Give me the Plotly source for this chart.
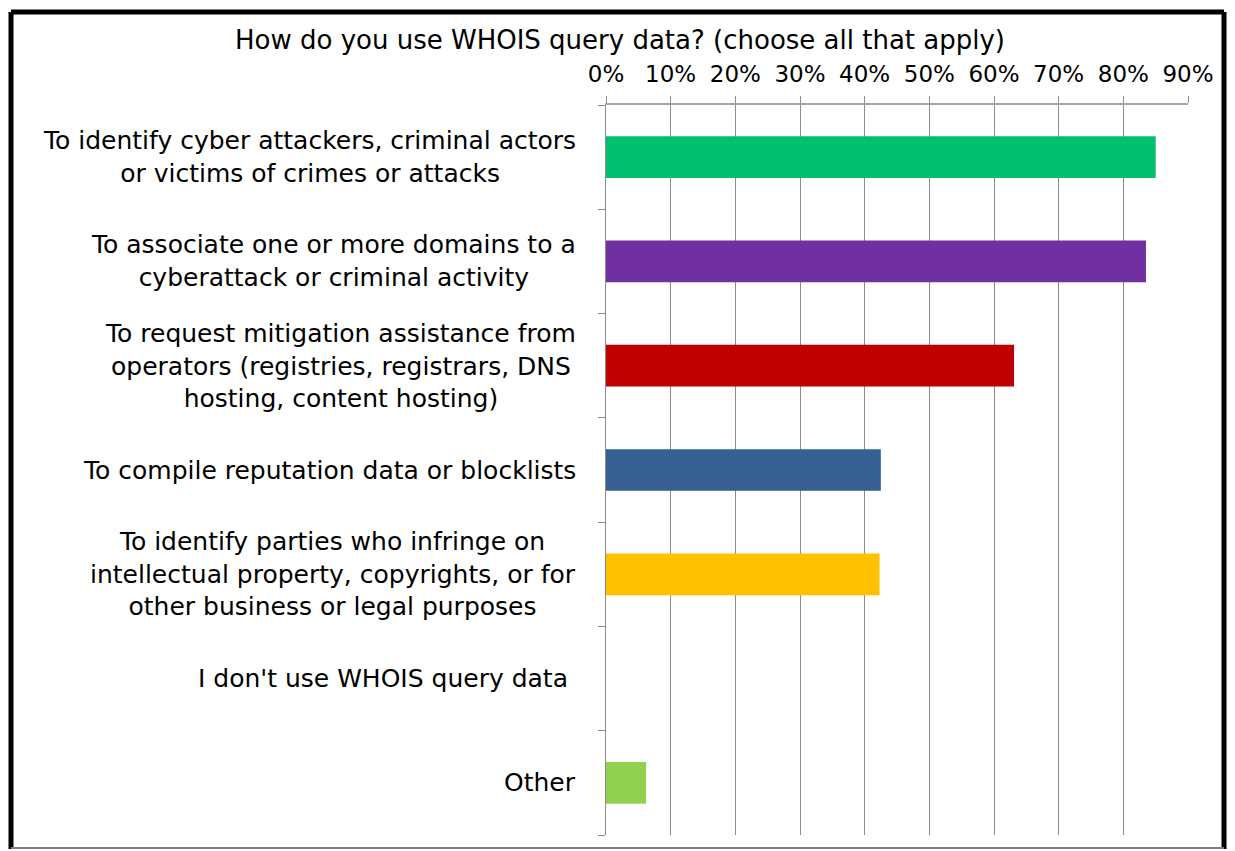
import plotly.graph_objects as go

categories = [
    "To identify cyber attackers, criminal actors<br>or victims of crimes or attacks",
    "To associate one or more domains to a<br>cyberattack or criminal activity",
    "To request mitigation assistance from<br>operators (registries, registrars, DNS<br>hosting, content hosting)",
    "To compile reputation data or blocklists",
    "To identify parties who infringe on<br>intellectual property, copyrights, or for<br>other business or legal purposes",
    "I don't use WHOIS query data ",
    "Other",
]
values = [0.85, 0.835, 0.631, 0.425, 0.423, 0.0, 0.062]
colors = ["#00C070", "#7030A0", "#C00000", "#376092", "#FFC000", "#FFFFFF", "#92D050"]
tick_vals = [0, 0.1, 0.2, 0.3, 0.4, 0.5, 0.6, 0.7, 0.8, 0.9]
tick_text = ["0%", "10%", "20%", "30%", "40%", "50%", "60%", "70%", "80%", "90%"]
title_text = "How do you use WHOIS query data? (choose all that apply)"

OFF = 8  # default page body margin
W, H = 1235 - OFF, 851 - OFF
# screen-space targets converted to figure space
L, R, T, B = 606 - OFF, 1188 - OFF, 105 - OFF, 835 - OFF

n = len(categories)
fig = go.Figure()
fig.add_trace(go.Bar(
    x=values, y=list(range(n)), orientation="h",
    marker=dict(color=colors, line=dict(width=0)), width=0.4,
    hoverinfo="x",
))

for i, c in enumerate(categories):
    fig.add_annotation(
        x=0, xref="x", y=i, yref="y", text=c, showarrow=False,
        xanchor="right", yanchor="middle", align="center", xshift=-28,
        font=dict(family="DejaVu Sans", size=25, color="#000000"),
    )

fig.update_layout(
    width=W, height=H,
    margin=dict(l=L, r=W - R, t=T, b=H - B, pad=0),
    paper_bgcolor="white", plot_bgcolor="white",
    showlegend=False,
    title=dict(text=title_text, x=(620 - OFF) / W, xanchor="center",
               y=1 - (40 - OFF) / H, yanchor="middle",
               font=dict(family="DejaVu Sans", size=26, color="#000000")),
    xaxis=dict(
        side="top", range=[0, 0.9], tickvals=tick_vals, ticktext=tick_text,
        showgrid=True, gridcolor="#8C8C8C", gridwidth=1,
        showline=True, linecolor="#A6A6A6", linewidth=2,
        ticks="outside", ticklen=7, tickcolor="#8C8C8C",
        ticklabelstandoff=5,
        tickfont=dict(family="DejaVu Sans", size=23, color="#000000"),
        zeroline=False, fixedrange=True,
    ),
    yaxis=dict(
        range=[n - 0.5, -0.5], tickvals=[k - 0.5 for k in range(n + 1)],
        showticklabels=False, showgrid=False, zeroline=False,
        showline=True, linecolor="#8C8C8C", linewidth=1,
        ticks="outside", ticklen=7, tickcolor="#8C8C8C",
        fixedrange=True,
    ),
)

def px(xp):
    return (xp - OFF - L) / (R - L)

def py(yp):
    return (B - (yp - OFF)) / (B - T)

border = [
    (11, 12, 1224, 12, "#000000", 5),
    (11, 12, 11, 849, "#000000", 5),
    (1224, 12, 1224, 849, "#000000", 5),
    (11, 848, 1224, 848, "#7F7F7F", 2),
]
for x0, y0, x1, y1, col, w in border:
    fig.add_shape(type="line", xref="paper", yref="paper",
                  x0=px(x0), y0=py(y0), x1=px(x1), y1=py(y1),
                  line=dict(color=col, width=w), layer="above")

fig.write_html("out.html")
